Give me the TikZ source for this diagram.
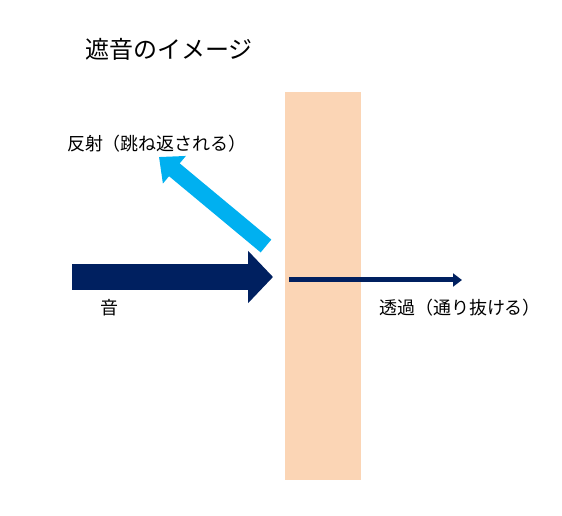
\documentclass[tikz,border=0pt]{standalone}
\usepackage{fontspec}
\newfontfamily\jpfont{Noto Sans CJK JP}
\usetikzlibrary{arrows.meta}
\definecolor{wallpeach}{HTML}{FBD5B5}
\definecolor{sounddark}{HTML}{002060}
\definecolor{reflectblue}{HTML}{00B0F0}
\begin{document}
\begin{tikzpicture}[x=0.75pt, y=-0.75pt,
        jptext/.style={font=\jpfont\fontsize{13.5pt}{16pt}\selectfont, inner sep=0pt},
        titletext/.style={font=\jpfont\fontsize{18pt}{21pt}\selectfont, inner sep=0pt},
        soundarrow/.style={draw=sounddark, line width=19.5pt,
            -{Triangle[width=38.25pt, length=18.75pt]}},
        reflectarrow/.style={draw=reflectblue, line width=12.5pt,
            -{Triangle[width=26pt, length=15pt]}},
        passarrow/.style={draw=sounddark, line width=3.75pt,
            -{Triangle[width=9.75pt, length=6.75pt]}}]
    \useasboundingbox (0,0) rectangle (562,516);
    % Draw the wall.
    \fill[wallpeach] (285,92) rectangle (361,480);
    % Specify the arrow ends.
    \coordinate (soundtail) at (72,277);
    \coordinate (soundtip) at (273,277);
    \coordinate (reflecttail) at (266,246);
    \coordinate (reflecttip) at (159,157);
    \coordinate (passtail) at (289,280);
    \coordinate (passtip) at (462,280);
    % Draw the arrows.
    \draw[soundarrow] (soundtail) -- (soundtip);
    \draw[reflectarrow] (reflecttail) -- (reflecttip);
    \draw[passarrow] (passtail) -- (passtip);
    % Specify the texts.
    \node[titletext] (title) at (169,49) {遮音のイメージ};
    \node[jptext] (reflect) at (157,144) {反射（跳ね返される）};
    \node[jptext] (sound) at (109,308) {音};
    \node[jptext] (pass) at (460,308) {透過（通り抜ける）};
\end{tikzpicture}
\end{document}
